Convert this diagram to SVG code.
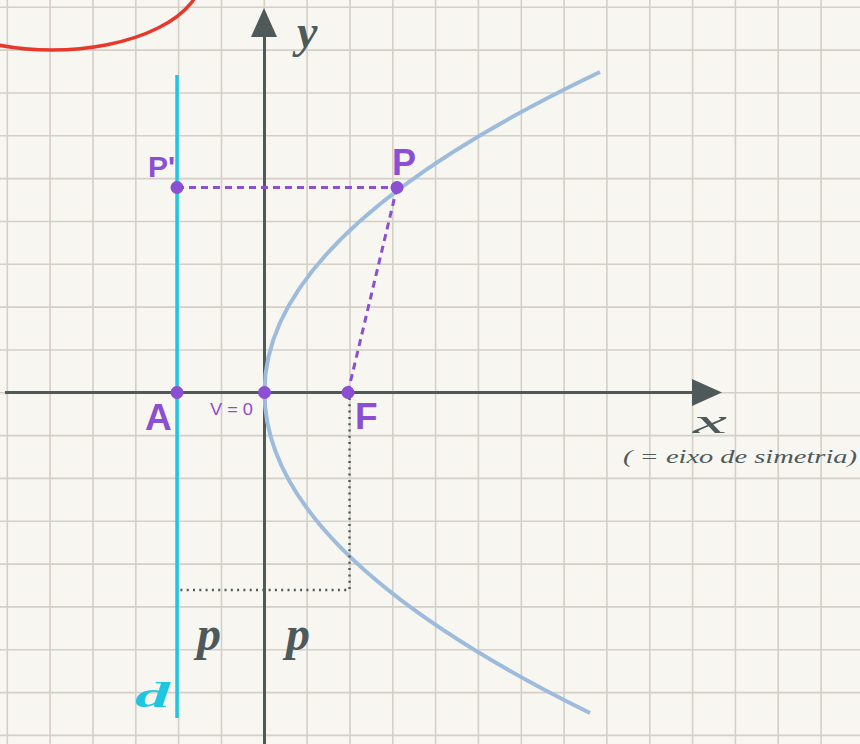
<svg xmlns="http://www.w3.org/2000/svg" width="860" height="744" viewBox="0 0 860 744">
<defs>
<style>
.grid{stroke:#d4cfc7;stroke-width:1.6;fill:none}
.axis{stroke:#4e5a5a;stroke-width:3;fill:none}
.head{fill:#4e5a5a}
.pt{fill:#8a4fd2}
.plab{fill:#8a4fd2;font-family:"Liberation Sans",Arial,sans-serif;font-weight:bold}
.vlab{fill:#8a4fd2;font-family:"Liberation Sans",Arial,sans-serif;font-weight:normal}
.hand{font-family:"Liberation Serif","DejaVu Serif",serif;font-style:italic}
.dash{stroke:#8a4fd2;stroke-width:3;stroke-dasharray:7 5;fill:none}
.dot{stroke:#4e5a5a;stroke-width:2.4;stroke-dasharray:2 4.3;fill:none}
</style>
</defs>
<rect width="860" height="744" fill="#f8f6f1"/>
<g id="grid">
<path class="grid" d="M7.3 0V744M50.1 0V744M93 0V744M135.8 0V744M178.6 0V744M221.5 0V744M264.3 0V744M307.1 0V744M350 0V744M392.8 0V744M435.6 0V744M478.4 0V744M521.3 0V744M564.1 0V744M606.9 0V744M649.8 0V744M692.6 0V744M735.4 0V744M778.2 0V744M821.1 0V744M0 7.3H860M0 50.1H860M0 93H860M0 135.8H860M0 178.6H860M0 221.5H860M0 264.3H860M0 307.1H860M0 350H860M0 392.8H860M0 435.6H860M0 478.4H860M0 521.3H860M0 564.1H860M0 606.9H860M0 649.8H860M0 692.6H860M0 735.4H860"/>
</g>
<g id="red-ellipse">
<ellipse cx="52" cy="-25" rx="150" ry="75" fill="none" stroke="#e8382b" stroke-width="3.5"/>
</g>
<g id="axes">
<path class="axis" d="M264.5 744V30"/>
<polygon class="head" points="264,8 251,37 277,37"/>
<path class="axis" d="M5 392.5H695"/>
<polygon class="head" points="692,379 722,392.5 692,406"/>
<text class="hand" x="297" y="47" font-size="46" fill="#4e5a5a" font-weight="bold">y</text>
<text class="hand" x="693" y="433" font-size="34" fill="#4e5a5a" textLength="34" lengthAdjust="spacingAndGlyphs">x</text>
<text class="hand" x="623" y="463" font-size="19" fill="#4e5a5a" textLength="234" lengthAdjust="spacingAndGlyphs">( = eixo de simetria)</text>
</g>
<g id="parabola">
<path d="M600 72Q264 232 264.5 392Q264 552.5 590 713" fill="none" stroke="#9dbcdb" stroke-width="4"/>
</g>
<g id="directrix">
<path d="M177 75V718" stroke="#1ec6e2" stroke-width="3.5" fill="none"/>
<text class="hand" x="135" y="707" font-size="36" fill="#1ec6e2" font-weight="bold" textLength="35" lengthAdjust="spacingAndGlyphs">d</text>
</g>
<g id="connectors">
<path class="dash" d="M177 187.5H397"/>
<path class="dash" d="M397 187.5L348 392"/>
<path class="dot" d="M349.5 398V590H177"/>
</g>
<g id="node-P-prime">
<circle class="pt" cx="177" cy="187.5" r="6.5"/>
<text class="plab" x="148" y="177" font-size="30">P'</text>
</g>
<g id="node-P">
<circle class="pt" cx="397" cy="187.5" r="6.5"/>
<text class="plab" x="392" y="175" font-size="36">P</text>
</g>
<g id="node-A">
<circle class="pt" cx="177" cy="392.5" r="6.5"/>
<text class="plab" x="145" y="430" font-size="37">A</text>
</g>
<g id="node-V">
<circle class="pt" cx="264.5" cy="392.5" r="6.5"/>
<text class="vlab" x="210" y="415" font-size="16" textLength="43" lengthAdjust="spacingAndGlyphs">V = 0</text>
</g>
<g id="node-F">
<circle class="pt" cx="348" cy="392.5" r="6.5"/>
<text class="plab" x="355" y="429" font-size="37">F</text>
</g>
<g id="labels-p">
<text class="hand" x="197" y="650" font-size="48" fill="#4e5a5a" font-weight="bold">p</text>
<text class="hand" x="286" y="650" font-size="48" fill="#4e5a5a" font-weight="bold">p</text>
</g>
</svg>
